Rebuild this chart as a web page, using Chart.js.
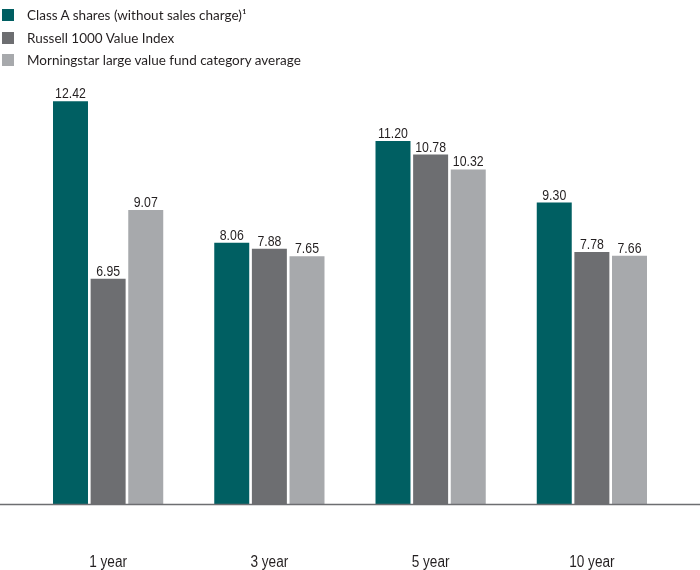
<!DOCTYPE html>
<html>
<head>
<meta charset="utf-8">
<script src="https://cdn.jsdelivr.net/npm/chart.js@4"></script>
<style>
  html, body { margin: 0; padding: 0; background: #fff; }
  #wrap { position: relative; width: 700px; height: 570px; }
  #legend { position: absolute; left: 0; top: 4px; font-family: Lato, "Open Sans", sans-serif; font-size: 13.5px; color: #231f20; }
  .item { display: flex; align-items: center; height: 22.5px; }
  .sw { width: 12px; height: 12px; margin-left: 2px; margin-right: 13px; }
</style>
</head>
<body>
<div id="wrap">
  <canvas id="c" width="700" height="570"></canvas>
  <div id="legend"></div>
</div>
<script>
const categories = ["1 year", "3 year", "5 year", "10 year"];
const seriesNames = ["Class A shares (without sales charge)\u00B9", "Russell 1000 Value Index", "Morningstar large value fund category average"];
const classA = [12.42, 8.06, 11.20, 9.30];
const russell = [6.95, 7.88, 10.78, 7.78];
const morningstar = [9.07, 7.65, 10.32, 7.66];
const colors = ["#005f62", "#6d6e71", "#a7a9ac"];

const legend = document.getElementById('legend');
seriesNames.forEach((n, i) => {
  const d = document.createElement('div'); d.className = 'item';
  const s = document.createElement('span'); s.className = 'sw'; s.style.background = colors[i];
  const t = document.createElement('span'); t.textContent = n;
  d.appendChild(s); d.appendChild(t); legend.appendChild(d);
});

const labelFont = '"Liberation Sans", Arial, sans-serif';

function narrowText(ctx, text, x, y, squeeze) {
  ctx.save();
  ctx.translate(x, y);
  ctx.scale(squeeze, 1);
  ctx.fillText(text, 0, 0);
  ctx.restore();
}

const labelsPlugin = {
  id: 'labelsPlugin',
  afterDatasetsDraw(chart) {
    const ctx = chart.ctx;
    ctx.save();
    ctx.fillStyle = '#231f20';
    ctx.textAlign = 'center';
    ctx.textBaseline = 'alphabetic';
    ctx.font = '15px ' + labelFont;
    chart.data.datasets.forEach((ds, i) => {
      chart.getDatasetMeta(i).data.forEach((bar, j) => {
        narrowText(ctx, ds.data[j].toFixed(2), bar.x, bar.y - 3, 0.82);
      });
    });
    ctx.font = '16px ' + labelFont;
    const xs = chart.scales.x;
    chart.data.labels.forEach((lab, i) => {
      narrowText(ctx, lab, xs.getPixelForValue(i), 567, 0.85);
    });
    // baseline across full width
    const y0 = chart.scales.y.getPixelForValue(0);
    ctx.strokeStyle = '#6d6e71';
    ctx.lineWidth = 1.5;
    ctx.beginPath();
    ctx.moveTo(0, y0);
    ctx.lineTo(chart.width, y0);
    ctx.stroke();
    ctx.restore();
  }
};

new Chart(document.getElementById('c'), {
  type: 'bar',
  data: {
    labels: categories,
    datasets: [
      { label: seriesNames[0], data: classA, backgroundColor: colors[0] },
      { label: seriesNames[1], data: russell, backgroundColor: colors[1] },
      { label: seriesNames[2], data: morningstar, backgroundColor: colors[2] }
    ]
  },
  options: {
    responsive: false,
    animation: false,
    events: [],
    layout: { padding: { top: 50, left: 27.5, right: 27.5, bottom: 65.5 } },
    categoryPercentage: 0.7,
    barPercentage: 0.93,
    plugins: { legend: { display: false }, tooltip: { enabled: false } },
    scales: {
      x: { display: false },
      y: { display: false, min: 0, max: 14 }
    }
  },
  plugins: [labelsPlugin]
});
</script>
</body>
</html>
